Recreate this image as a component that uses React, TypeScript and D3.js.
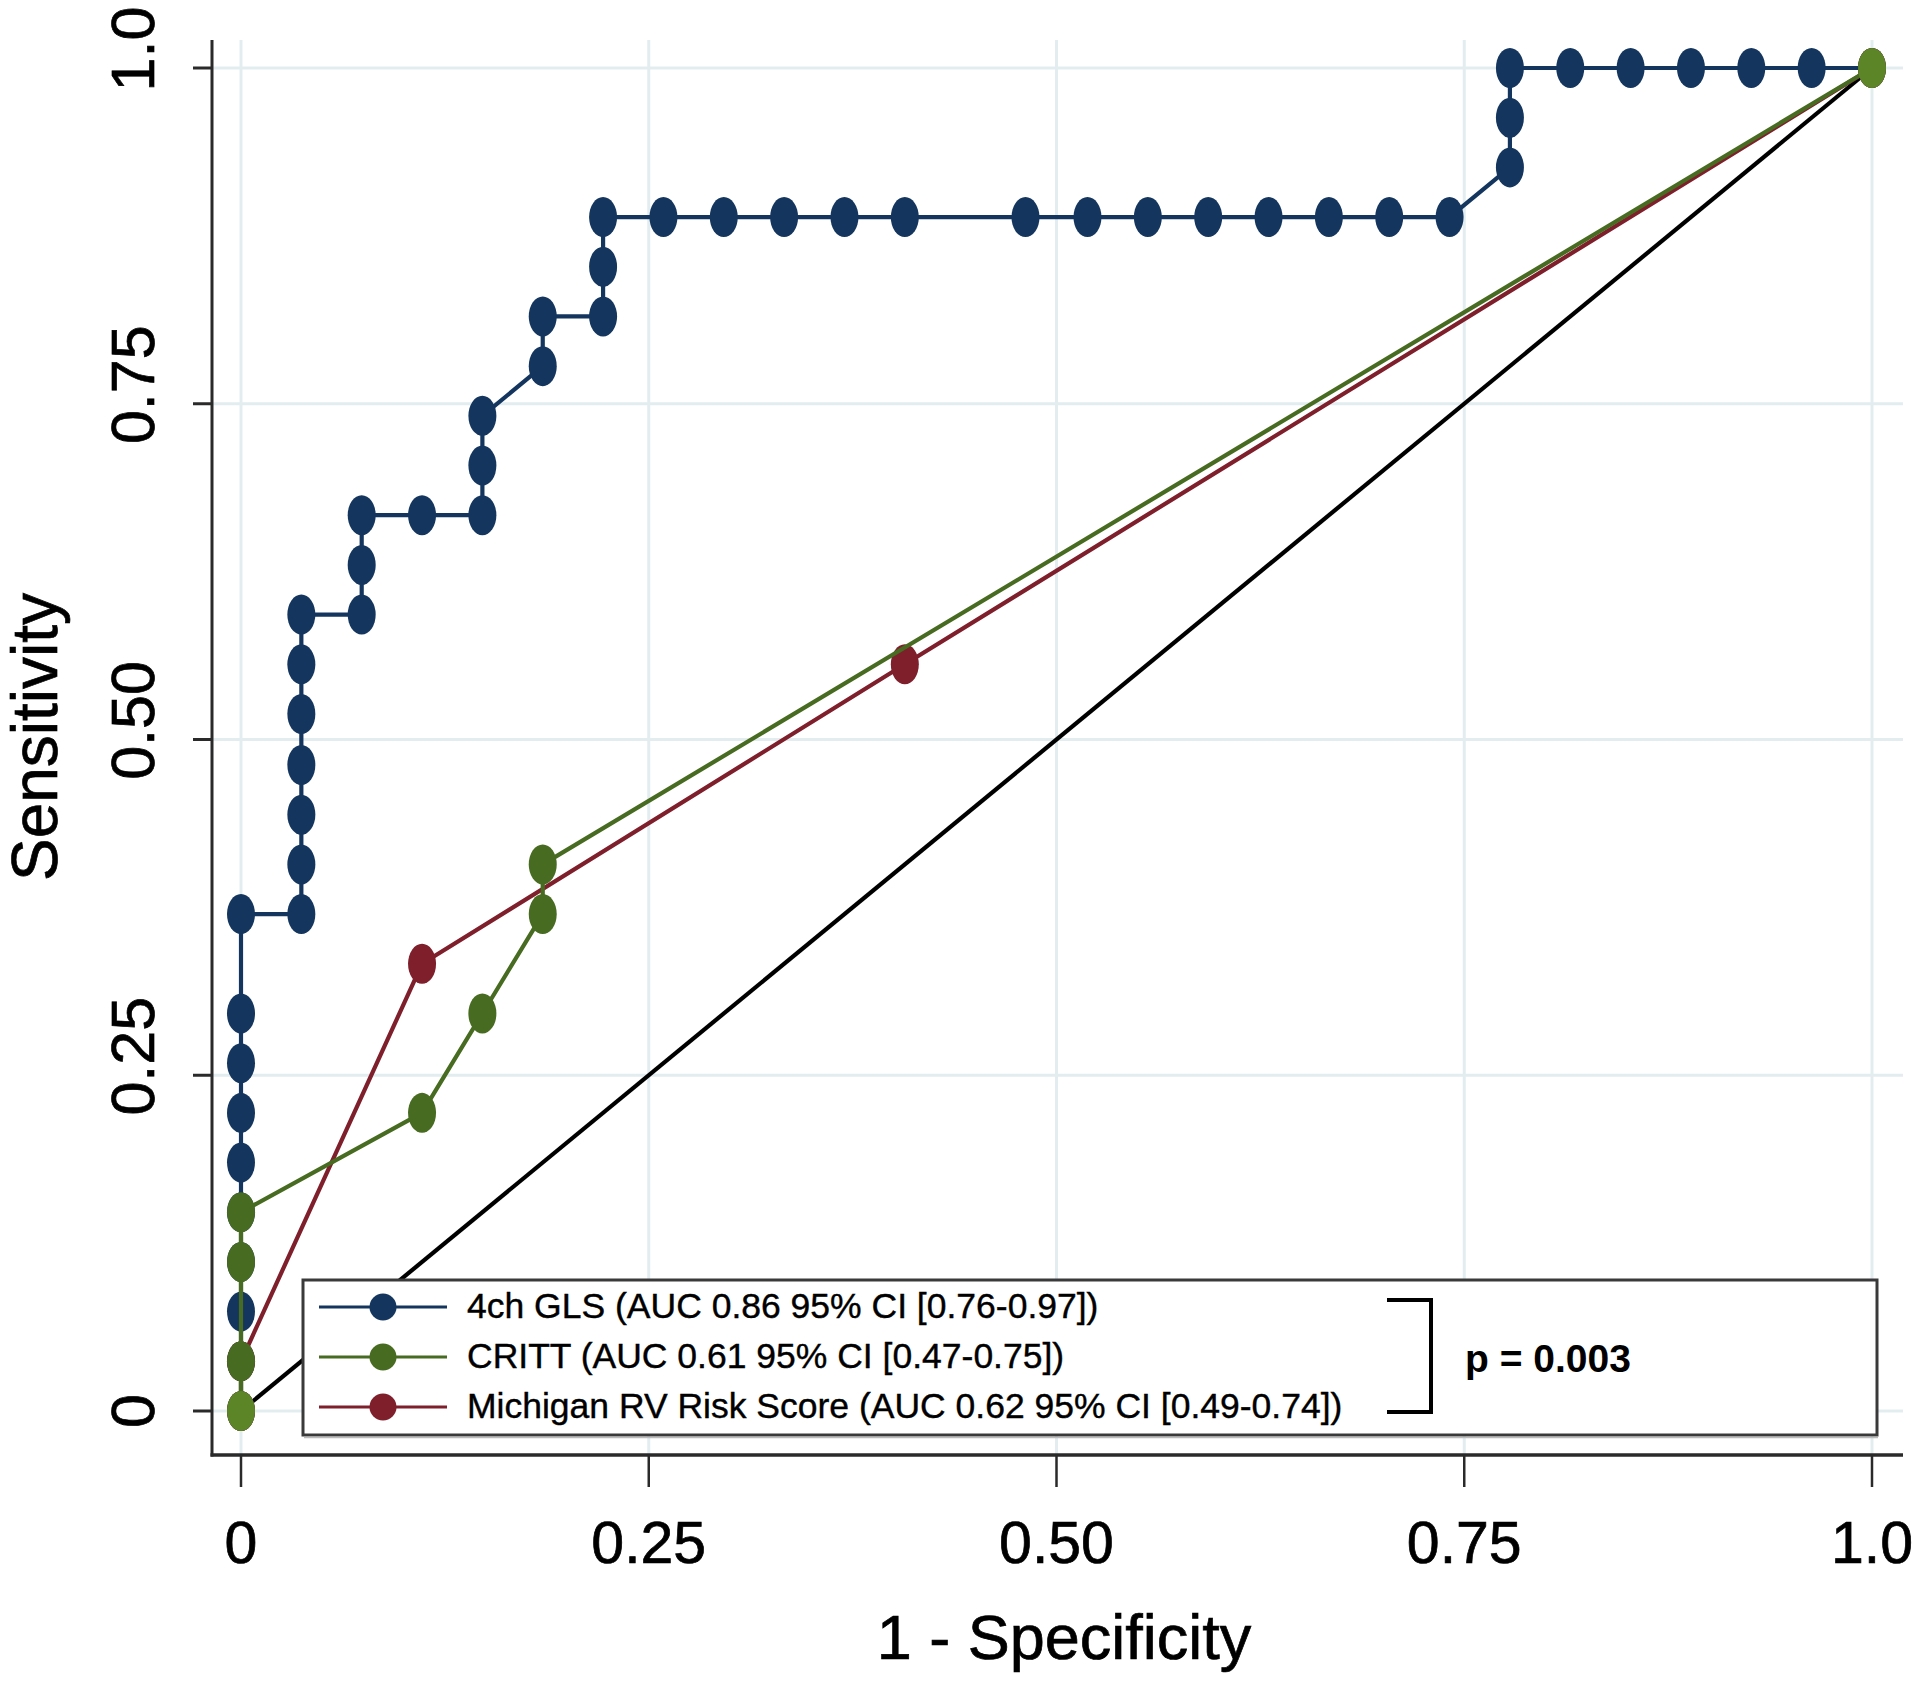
import React from "react";
import * as d3 from "d3";

// ---- Data ----
const tickValues = [0, 0.25, 0.5, 0.75, 1];
const xTickLabels = ["0", "0.25", "0.50", "0.75", "1.0"];
const yTickLabels = ["0", "0.25", "0.50", "0.75", "1.0"];

const glsFpr = [
  0, 0, 0, 0, 0, 0, 0, 0, 0, 0,
  0.037, 0.037, 0.037, 0.037, 0.037, 0.037, 0.037,
  0.074, 0.074, 0.074,
  0.111,
  0.148, 0.148, 0.148,
  0.185, 0.185,
  0.222, 0.222, 0.222,
  0.259, 0.296, 0.333, 0.370, 0.407,
  0.481, 0.519, 0.556, 0.593, 0.630, 0.667, 0.704, 0.741,
  0.778, 0.778, 0.778,
  0.815, 0.852, 0.889, 0.926, 0.963, 1,
];
const glsSens = [
  0, 0.037, 0.074, 0.111, 0.148, 0.185, 0.222, 0.259, 0.296, 0.370,
  0.370, 0.407, 0.444, 0.481, 0.519, 0.556, 0.593,
  0.593, 0.630, 0.667,
  0.667,
  0.667, 0.704, 0.741,
  0.778, 0.815,
  0.815, 0.852, 0.889,
  0.889, 0.889, 0.889, 0.889, 0.889,
  0.889, 0.889, 0.889, 0.889, 0.889, 0.889, 0.889, 0.889,
  0.926, 0.963, 1,
  1, 1, 1, 1, 1, 1,
];

const crittFpr = [0, 0, 0, 0, 0.111, 0.148, 0.185, 0.185, 1];
const crittSens = [0, 0.037, 0.111, 0.148, 0.222, 0.296, 0.370, 0.407, 1];

const michFpr = [0, 0, 0.111, 0.407, 1];
const michSens = [0, 0.037, 0.333, 0.556, 1];

const seriesNames = [
  "4ch GLS (AUC 0.86 95% CI [0.76-0.97])",
  "CRITT (AUC 0.61 95% CI [0.47-0.75])",
  "Michigan RV Risk Score (AUC 0.62 95% CI [0.49-0.74])",
];
const seriesColors = ["#14365e", "#476b20", "#7e1f2b"];
const pValueText = "p = 0.003";

const FONT = "'Liberation Sans', Arial, Helvetica, sans-serif";

export default function App() {
  const W = 1920;
  const H = 1687;
  const x = d3.scaleLinear().domain([0, 1]).range([241, 1872]);
  const y = d3.scaleLinear().domain([0, 1]).range([1411, 68]);

  const axisX = 212;
  const axisY = 1455;
  const plotTop = 40;
  const plotRight = 1903;

  const line = d3
    .line<[number, number]>()
    .x((d) => x(d[0]))
    .y((d) => y(d[1]));

  const zip = (a: number[], b: number[]) =>
    a.map((v, i) => [v, b[i]] as [number, number]);

  const gls = zip(glsFpr, glsSens);
  const critt = zip(crittFpr, crittSens);
  const mich = zip(michFpr, michSens);

  const renderSeries = (
    pts: [number, number][],
    color: string,
    key: string,
    light?: string
  ) => (
    <g key={key}>
      <path d={line(pts) || ""} fill="none" stroke={color} strokeWidth={4.2} strokeLinejoin="round" />
      {pts.map((p, i) => (
        <ellipse
          key={i}
          cx={x(p[0])}
          cy={y(p[1])}
          rx={14}
          ry={20}
          fill={light && p[0] === p[1] ? light : color}
        />
      ))}
    </g>
  );

  const legendRows = [1307, 1357, 1407];
  const txtStroke = { stroke: "#000", strokeWidth: 0.7 };

  return (
    <svg
      width={W}
      height={H}
      viewBox={`0 0 ${W} ${H}`}
      style={{ position: "absolute", left: 0, top: 0, background: "#fff" }}
    >
      <rect x={0} y={0} width={W} height={H} fill="#ffffff" />
      {/* grid */}
      {tickValues.map((t, i) => (
        <line
          key={"gx" + i}
          x1={x(t)}
          x2={x(t)}
          y1={plotTop}
          y2={axisY}
          stroke="#e3edf0"
          strokeWidth={3}
        />
      ))}
      {tickValues.map((t, i) => (
        <line
          key={"gy" + i}
          x1={axisX}
          x2={plotRight}
          y1={y(t)}
          y2={y(t)}
          stroke="#e3edf0"
          strokeWidth={3}
        />
      ))}

      {/* reference diagonal */}
      <line x1={x(0)} y1={y(0)} x2={x(1)} y2={y(1)} stroke="#000" strokeWidth={4.2} />

      {/* series */}
      {renderSeries(gls, seriesColors[0], "gls")}
      {renderSeries(mich, seriesColors[2], "mich")}
      {renderSeries(critt, seriesColors[1], "critt", "#5b8527")}

      {/* axes */}
      <line x1={axisX} x2={axisX} y1={plotTop} y2={axisY + 1.5} stroke="#2a2a2a" strokeWidth={3} />
      <line x1={axisX - 1.5} x2={plotRight} y1={axisY} y2={axisY} stroke="#2a2a2a" strokeWidth={3.5} />
      {tickValues.map((t, i) => (
        <line key={"tx" + i} x1={x(t)} x2={x(t)} y1={axisY} y2={axisY + 32} stroke="#2a2a2a" strokeWidth={2.5} />
      ))}
      {tickValues.map((t, i) => (
        <line key={"ty" + i} x1={axisX - 19} x2={axisX} y1={y(t)} y2={y(t)} stroke="#2a2a2a" strokeWidth={3} />
      ))}
      {tickValues.map((t, i) => (
        <text
          key={"lx" + i}
          x={x(t)}
          y={1563}
          textAnchor="middle"
          fontFamily={FONT}
          fontSize={59}
          fill="#000"
          {...txtStroke}
        >
          {xTickLabels[i]}
        </text>
      ))}
      {tickValues.map((t, i) => {
        const cy = y(t) + (yTickLabels[i].length > 1 ? -19 : 0);
        return (
          <text
            key={"ly" + i}
            transform={`translate(154, ${cy}) rotate(-90)`}
            textAnchor="middle"
            fontFamily={FONT}
            fontSize={61}
            fill="#000"
            {...txtStroke}
          >
            {yTickLabels[i]}
          </text>
        );
      })}

      {/* axis titles */}
      <text
        x={1064}
        y={1659}
        textAnchor="middle"
        fontFamily={FONT}
        fontSize={63}
        fill="#000"
        {...txtStroke}
      >
        1 - Specificity
      </text>
      <text
        transform={`translate(57, 737) rotate(-90)`}
        textAnchor="middle"
        fontFamily={FONT}
        fontSize={64}
        fill="#000"
        {...txtStroke}
      >
        Sensitivity
      </text>

      {/* legend */}
      <rect x={303} y={1280} width={1574} height={155} fill="#fff" stroke="#3a3a3a" strokeWidth={3} />
      <line x1={304} x2={1878} y1={1437.5} y2={1437.5} stroke="#bbb" strokeWidth={1.5} />
      {seriesNames.map((name, i) => (
        <g key={"lg" + i}>
          <line x1={319} x2={447} y1={legendRows[i]} y2={legendRows[i]} stroke={seriesColors[i]} strokeWidth={3.2} />
          <circle cx={383} cy={legendRows[i]} r={13.5} fill={seriesColors[i]} />
          <text
            x={467}
            y={legendRows[i] + 11}
            fontFamily={FONT}
            fontSize={35.5}
            fill="#000"
            stroke="#000"
            strokeWidth={0.4}
          >
            {name}
          </text>
        </g>
      ))}
      {/* bracket */}
      <path
        d="M1387,1300 L1431,1300 L1431,1412 L1387,1412"
        fill="none"
        stroke="#000"
        strokeWidth={4}
      />
      <text
        x={1465}
        y={1372}
        fontFamily={FONT}
        fontSize={39}
        fontWeight="bold"
        fill="#000"
      >
        {pValueText}
      </text>
    </svg>
  );
}
